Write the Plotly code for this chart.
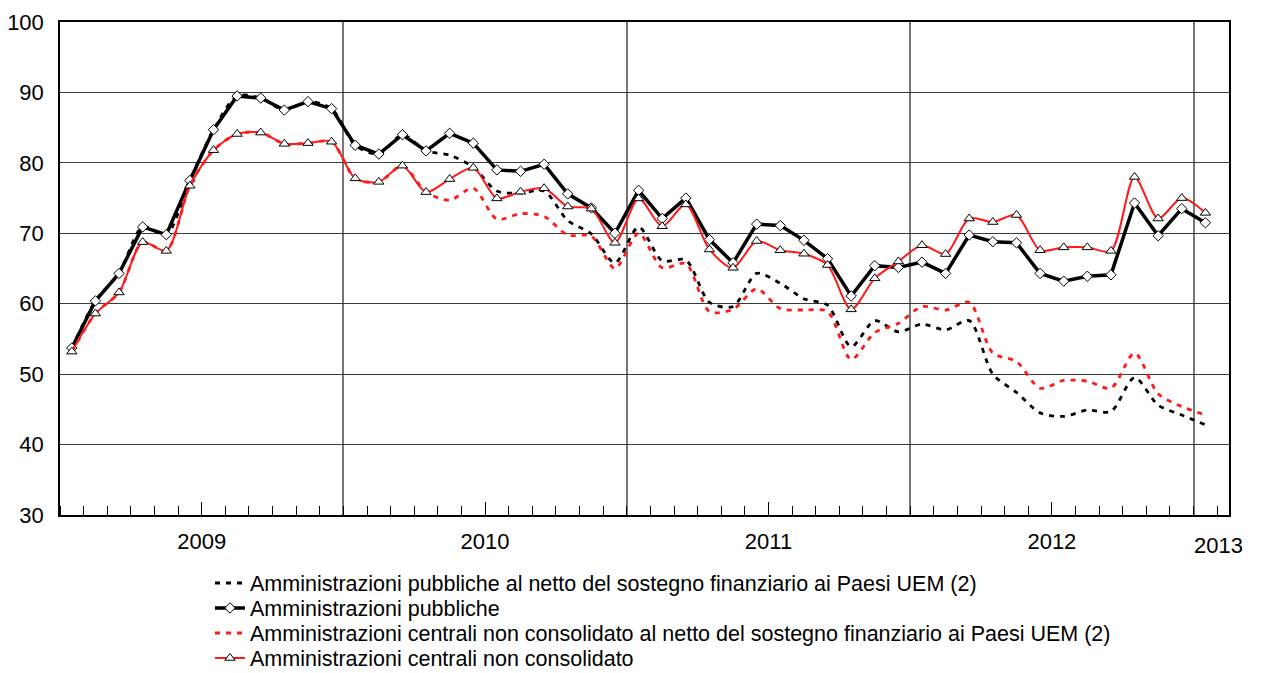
import plotly.graph_objects as go

# ---------------- data ----------------
months = [f"{y}-{m:02d}" for y in (2009, 2010, 2011, 2012) for m in range(1, 13)] + ["2013-01"]
year_labels = ["2009", "2010", "2011", "2012", "2013"]

names = [
    "Amministrazioni pubbliche al netto del sostegno finanziario ai Paesi UEM (2)",
    "Amministrazioni pubbliche",
    "Amministrazioni centrali non consolidato al netto del sostegno finanziario ai Paesi UEM (2)",
    "Amministrazioni centrali non consolidato",
]

ap_net = [53.7, 60.4, 64.3, 70.9, 69.8, 77.5, 84.7, 89.5, 89.2, 87.5, 88.7, 87.7,
          82.5, 81.25, 84.0, 81.7, 81.1, 79.4, 76.0, 75.7, 76.0, 71.8, 69.9, 65.8,
          70.9, 66.1, 66.2, 60.2, 59.6, 64.3, 62.9, 60.7, 59.8, 53.9, 57.6, 56.0,
          57.1, 56.3, 57.6, 50.0, 47.4, 44.5, 44.0, 44.9, 44.7, 49.5, 45.6, 44.2,
          42.8]

ap = [53.7, 60.4, 64.3, 70.9, 69.8, 77.5, 84.7, 89.5, 89.2, 87.5, 88.7, 87.7,
      82.5, 81.25, 84.0, 81.7, 84.2, 82.8, 79.0, 78.8, 79.8, 75.6, 73.6, 70.0,
      76.1, 72.1, 75.0, 69.1, 65.8, 71.3, 71.1, 69.0, 66.4, 61.1, 65.4, 65.15,
      65.9, 64.3, 69.75, 68.8, 68.65, 64.3, 63.2, 63.9, 64.1, 74.3, 69.65, 73.5,
      71.5]

ac_net = [53.2, 58.6, 61.6, 68.75, 67.5, 76.75, 81.8, 84.1, 84.3, 82.7, 82.8, 83.0,
          77.8, 77.3, 79.6, 75.85, 74.7, 76.4, 72.0, 72.8, 72.4, 69.75, 69.6, 65.0,
          70.0, 65.1, 65.7, 58.9, 59.2, 62.1, 59.3, 59.1, 58.9, 52.1, 55.9, 57.2,
          59.6, 59.1, 60.2, 53.0, 51.8, 48.0, 49.1, 49.0, 48.0, 53.0, 47.2, 45.4,
          44.2]

ac = [53.2, 58.6, 61.6, 68.75, 67.5, 76.75, 81.8, 84.1, 84.3, 82.7, 82.8, 83.0,
      77.8, 77.3, 79.6, 75.85, 77.7, 79.3, 74.95, 75.9, 76.4, 73.8, 73.5, 68.65,
      74.95, 71.0, 74.1, 67.7, 65.1, 68.9, 67.6, 67.1, 65.5, 59.2, 63.6, 66.0,
      68.3, 67.05, 72.1, 71.6, 72.6, 67.6, 68.0, 68.0, 67.5, 78.0, 72.1, 75.0,
      72.9]

y_ticks = [30, 40, 50, 60, 70, 80, 90, 100]

# ---------------- style ----------------
FONT = "Liberation Sans, Arial"
TICK_SIZE = 22
LEG_SIZE = 21.5

x = list(range(len(months)))
n = len(months)
year_mid = [12 * i + 5.5 for i in range(4)]
year_edges = [12 * i - 0.5 for i in range(1, 5)]
xr = [-0.5, n - 0.0]

fig = go.Figure()

DASH = "5px,6px"
RED = "#FF1A1A"
fig.add_trace(go.Scatter(
    x=x, y=ap_net, name=names[0], mode="lines", legend="legend", xaxis="x2",
    line=dict(color="black", width=2.8, dash=DASH, shape="spline", smoothing=0.8),
))
fig.add_trace(go.Scatter(
    x=x, y=ap, name=names[1], mode="lines+markers", legend="legend2", xaxis="x2",
    line=dict(color="black", width=3.5),
    marker=dict(symbol="diamond", size=8, color="white", line=dict(color="black", width=1)),
))
fig.add_trace(go.Scatter(
    x=x, y=ac_net, name=names[2], mode="lines", legend="legend3", xaxis="x2",
    line=dict(color=RED, width=2.8, dash=DASH, shape="spline", smoothing=0.8),
))
fig.add_trace(go.Scatter(
    x=x, y=ac, name=names[3], mode="lines+markers", legend="legend4", xaxis="x2",
    line=dict(color=RED, width=2, shape="spline", smoothing=0.8),
    marker=dict(symbol="triangle-up", size=9, color="white", line=dict(color="black", width=1)),
))

tickfont = dict(family=FONT, size=TICK_SIZE, color="black")

# the page body adds an 8px offset, so the figure is 8px smaller than the window
fig.update_layout(
    width=1278, height=665,
    margin=dict(l=52, r=57, t=14, b=158, autoexpand=False),
    paper_bgcolor="white", plot_bgcolor="white",
    font=dict(family=FONT, color="black"),
    # base x axis: year boundary gridlines, monthly minor ticks, frame
    xaxis=dict(
        range=xr, tickmode="array", tickvals=year_edges, showticklabels=False,
        ticks="", showgrid=True, gridcolor="#777777", gridwidth=1.5,
        zeroline=False, showline=True, linecolor="black", linewidth=1.5,
        mirror=True, automargin=False,
        minor=dict(tickmode="linear", tick0=-0.5, dtick=1, ticks="inside",
                   ticklen=9, tickcolor="black", tickwidth=1, showgrid=False),
    ),
    # overlay x axis carrying the data, year labels and mid-year ticks
    xaxis2=dict(
        overlaying="x", matches="x", range=xr, tickmode="array", tickvals=year_mid,
        ticktext=year_labels[:4], ticks="inside", ticklen=13, tickcolor="black",
        tickwidth=1, showgrid=False, zeroline=False, showline=False, anchor="y",
        side="bottom", tickfont=tickfont, ticklabelstandoff=11, automargin=False,
    ),
    yaxis=dict(
        range=[30, 100], tickmode="array", tickvals=y_ticks,
        ticktext=[str(v) for v in y_ticks], showgrid=True, gridcolor="#3a3a3a",
        gridwidth=1, zeroline=False, showline=True, linecolor="black",
        linewidth=1.5, mirror=True, ticks="", tickfont=tickfont,
        ticklabelstandoff=10, automargin=False,
    ),
    yaxis2=dict(
        overlaying="y", matches="y", side="right", range=[30, 100],
        tickmode="array", tickvals=y_ticks,
        ticktext=[("\u00a0\u00a0" if v < 100 else "") + str(v) for v in y_ticks],
        showgrid=False, zeroline=False, showline=False, ticks="",
        tickfont=tickfont, ticklabelstandoff=17, anchor="x", automargin=False,
    ),
    annotations=[dict(
        x=n - 0.45, y=0, xref="x", yref="paper", text=year_labels[4],
        showarrow=False, yanchor="top", xanchor="center", yshift=-16,
        font=tickfont,
    )],
    showlegend=True,
)

leg_common = dict(xanchor="left", yanchor="middle", bgcolor="rgba(0,0,0,0)",
                  borderwidth=0, font=dict(family=FONT, size=LEG_SIZE, color="black"),
                  itemwidth=30)
ys = [583, 608, 633, 658]
keys = ["legend", "legend2", "legend3", "legend4"]
for k, py in zip(keys, ys):
    fig.update_layout({k: dict(leg_common, x=0.1283, y=(515 - py) / 493)})

fig.write_html("out.html")
